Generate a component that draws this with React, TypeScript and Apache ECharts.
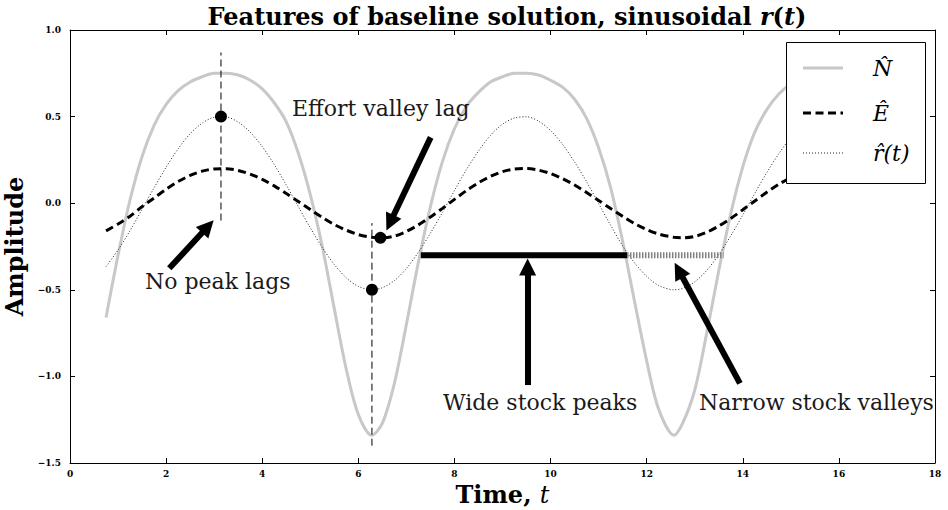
import React, { useEffect, useRef } from "react";
import * as echarts from "echarts";

// ---- data ----
const tValues = [
  0.75, 1.0, 1.25, 1.5, 1.75, 2.0, 2.25, 2.5, 2.75, 3.0, 3.25, 3.5, 3.75, 4.0, 4.25, 4.5,
  4.75, 5.0, 5.25, 5.5, 5.75, 6.0, 6.28, 6.5, 6.75, 7.0, 7.25, 7.5, 7.75, 8.0, 8.25, 8.5,
  8.75, 9.0, 9.25, 9.5, 9.75, 10.0, 10.25, 10.5, 10.75, 11.0, 11.25, 11.5, 11.75, 12.0,
  12.25, 12.57, 12.75, 13.0, 13.25, 13.5, 13.75, 14.0, 14.25, 14.5, 14.75, 15.0, 15.25,
  15.5, 15.75,
];
const stockValues = [
  -0.66, -0.3, 0.02, 0.27, 0.45, 0.57, 0.65, 0.7, 0.73, 0.75, 0.75, 0.74, 0.71, 0.66, 0.58, 0.47,
  0.29, 0.05, -0.25, -0.61, -0.96, -1.22, -1.34, -1.27, -1.04, -0.7, -0.34, -0.02, 0.24, 0.43, 0.56, 0.64,
  0.7, 0.73, 0.75, 0.75, 0.74, 0.71, 0.67, 0.6, 0.49, 0.32, 0.09, -0.22, -0.57, -0.91,
  -1.19, -1.34, -1.27, -1.08, -0.75, -0.39, -0.06, 0.21, 0.41, 0.54, 0.63, 0.69, 0.73,
  0.75, 0.75,
];
const effortValues = [
  -0.16, -0.12, -0.075, -0.02, 0.03, 0.08, 0.125, 0.16, 0.185, 0.198, 0.199, 0.189, 0.168, 0.138, 0.1, 0.056,
  0.01, -0.037, -0.082, -0.123, -0.156, -0.181, -0.197, -0.2, -0.19, -0.163, -0.125, -0.08, -0.03, 0.022, 0.073, 0.118,
  0.155, 0.182, 0.197, 0.2, 0.191, 0.171, 0.142, 0.105, 0.062, 0.016, -0.031, -0.076, -0.118, -0.152,
  -0.178, -0.197, -0.2, -0.192, -0.168, -0.132, -0.088, -0.038, 0.013, 0.063, 0.109, 0.148, 0.178,
  0.195, 0.2,
];
const rateValues = [
  -0.366, -0.27, -0.158, -0.035, 0.089, 0.208, 0.314, 0.401, 0.462, 0.495, 0.497, 0.468, 0.41, 0.327, 0.223, 0.105,
  -0.019, -0.142, -0.256, -0.354, -0.431, -0.48, -0.5, -0.488, -0.447, -0.377, -0.283, -0.173, -0.053, 0.073, 0.194, 0.301,
  0.392, 0.456, 0.492, 0.499, 0.474, 0.42, 0.34, 0.238, 0.124, -0.002, -0.127, -0.246, -0.345, -0.422,
  -0.475, -0.5, -0.492, -0.454, -0.388, -0.297, -0.188, -0.068, 0.057, 0.177, 0.286, 0.38, 0.45,
  0.489, 0.5,
];

const seriesNames = ["N\u0302", "E\u0302", "r\u0302(t)"];

// markers
const markedPoints = [
  [3.1416, 0.5],
  [6.2832, -0.5],
  [6.46, -0.2],
];
// vertical guide lines: [t, yFrom, yTo]
const guideLines = [
  [3.1416, -0.1, 0.87],
  [6.2832, -1.4, -0.115],
];
const spanLevel = -0.3;
const widePeakSpan = [7.3, 11.59];
const narrowValleySpan = [11.59, 13.6];
// arrows: [tailT, tailY, headT, headY]
const arrows = [
  [2.066, -0.376, 2.869, -0.135],
  [7.505, 0.38, 6.66, -0.113],
  [9.523, -1.05, 9.523, -0.368],
  [13.941, -1.04, 12.667, -0.387],
];
const annotations = [
  { text: "No peak lags", x: 145, y: 281 },
  { text: "Effort valley lag", x: 292, y: 108 },
  { text: "Wide stock peaks", x: 443, y: 402 },
  { text: "Narrow stock valleys", x: 699, y: 402 },
];

const xMin = 0, xMax = 18, xStep = 2;
const yMin = -1.5, yMax = 1.0, yStep = 0.5;

const SERIF = "'DejaVu Serif', serif";
const GRAY = "#c8c8c8";

export default function App() {
  const ref = useRef<HTMLDivElement>(null);

  useEffect(() => {
    if (!ref.current) return;
    const chart = echarts.init(ref.current, undefined, { renderer: "svg" });

    const pairs = (vals: number[]) => tValues.map((t, i) => [t, vals[i]]);
    const tickLabel = {
      fontFamily: SERIF,
      fontWeight: "bold" as const,
      fontSize: 9,
      color: "#000",
    };
    const axisLine = { show: true, onZero: false, lineStyle: { color: "#000", width: 1 } };
    const axisTick = { show: true, inside: true, length: 5, lineStyle: { color: "#000", width: 1 } };

    const series: any[] = [
      {
        name: seriesNames[0],
        type: "line",
        data: pairs(stockValues),
        smooth: 0.3,
        showSymbol: false,
        lineStyle: { color: GRAY, width: 3 },
        z: 2,
      },
      {
        name: seriesNames[1],
        type: "line",
        data: pairs(effortValues),
        smooth: 0.3,
        showSymbol: false,
        lineStyle: { color: "#000", width: 3, type: [8, 4.5] },
        z: 3,
      },
      {
        name: seriesNames[2],
        type: "line",
        data: pairs(rateValues),
        smooth: 0.3,
        showSymbol: false,
        lineStyle: { color: "#222", width: 1, type: [1, 2] },
        z: 3,
      },
      ...guideLines.map((g) => ({
        type: "line",
        data: [
          [g[0], g[1]],
          [g[0], g[2]],
        ],
        showSymbol: false,
        lineStyle: { color: "#000", width: 1, type: [7, 4] },
        z: 4,
      })),
      {
        type: "line",
        data: [
          [widePeakSpan[0], spanLevel],
          [widePeakSpan[1], spanLevel],
        ],
        showSymbol: false,
        lineStyle: { color: "#000", width: 6, cap: "butt" },
        z: 5,
      },
      {
        type: "line",
        data: [
          [narrowValleySpan[0], spanLevel],
          [narrowValleySpan[1], spanLevel],
        ],
        showSymbol: false,
        lineStyle: { color: "#808080", width: 6, type: [1.5, 1.5] },
        z: 5,
      },
      {
        type: "scatter",
        data: markedPoints,
        symbol: "circle",
        symbolSize: 12,
        itemStyle: { color: "#000", opacity: 1 },
        z: 6,
      },
      {
        type: "line",
        data: [],
        z: 7,
        markLine: {
          silent: true,
          symbol: ["none", "triangle"],
          symbolSize: 17,
          label: { show: false },
          emphasis: { disabled: true },
          lineStyle: { color: "#000", width: 6, type: "solid", opacity: 1 },
          itemStyle: { color: "#000" },
          data: arrows.map((a) => [{ coord: [a[0], a[1]] }, { coord: [a[2], a[3]] }]),
        },
      },
    ];

    const legendRows = [
      { y: 68, text: seriesNames[0], stroke: GRAY, width: 3, dash: null as any },
      { y: 113, text: seriesNames[1], stroke: "#000", width: 3, dash: [8, 4.5] },
      { y: 153, text: seriesNames[2], stroke: "#222", width: 1, dash: [1, 2] },
    ];

    const graphic: any[] = [
      {
        type: "rect",
        z: 100,
        shape: { x: 786.5, y: 42.5, width: 139, height: 141 },
        style: { fill: "#fff", stroke: "#000", lineWidth: 1 },
      },
      ...legendRows.map((r) => ({
        type: "line",
        z: 101,
        shape: { x1: 803, y1: r.y, x2: 843, y2: r.y },
        style: { stroke: r.stroke, lineWidth: r.width, lineDash: r.dash },
      })),
      ...legendRows.map((r) => ({
        type: "text",
        z: 101,
        x: 873,
        y: r.y,
        style: {
          text: r.text,
          fontFamily: SERIF,
          fontStyle: "italic",
          fontSize: 22,
          fill: "#000",
          textAlign: "left",
          textVerticalAlign: "middle",
          align: "left",
          verticalAlign: "middle",
        },
      })),
      ...annotations.map((a) => ({
        type: "text",
        z: 50,
        x: a.x,
        y: a.y,
        style: {
          text: a.text,
          fontFamily: SERIF,
          fontSize: 22,
          fill: "#1a1a1a",
          textAlign: "left",
          textVerticalAlign: "middle",
          align: "left",
          verticalAlign: "middle",
        },
      })),
    ];

    chart.setOption({
      animation: false,
      backgroundColor: "#fff",
      title: {
        text: "{a|Features of baseline solution, sinusoidal }{i|r}{a|(}{i|t}{a|)}",
        left: 502,
        top: -1,
        textAlign: "center",
        textStyle: {
          rich: {
            a: { fontFamily: SERIF, fontWeight: "bold", fontSize: 24, color: "#000" },
            i: { fontFamily: SERIF, fontStyle: "italic", fontSize: 24, color: "#000" },
          },
        },
      },
      grid: { left: 70, right: 13, top: 30, bottom: 47, containLabel: false, outerBoundsMode: "none" },
      xAxis: [
        {
          type: "value",
          position: "bottom",
          min: xMin,
          max: xMax,
          interval: xStep,
          axisLine,
          axisTick,
          splitLine: { show: false },
          axisLabel: { ...tickLabel, margin: 6 },
          name: "{a|Time, }{i|t}",
          nameLocation: "middle",
          nameGap: 18,
          nameTextStyle: {
            verticalAlign: "top",
            rich: {
              a: { fontFamily: SERIF, fontWeight: "bold", fontSize: 24, color: "#000" },
              i: { fontFamily: SERIF, fontStyle: "italic", fontSize: 24, color: "#000" },
            },
          },
        },
        {
          type: "value",
          position: "top",
          min: xMin,
          max: xMax,
          interval: xStep,
          axisLine,
          axisTick,
          splitLine: { show: false },
          axisLabel: { show: false },
        },
      ],
      yAxis: [
        {
          type: "value",
          position: "left",
          min: yMin,
          max: yMax,
          interval: yStep,
          axisLine,
          axisTick,
          splitLine: { show: false },
          axisLabel: {
            ...tickLabel,
            margin: 9,
            formatter: (v: number) => (v < 0 ? "\u2212" + Math.abs(v).toFixed(1) : v.toFixed(1)),
          },
          name: "Amplitude",
          nameLocation: "middle",
          nameGap: 40,
          nameRotate: 90,
          nameTextStyle: { fontFamily: SERIF, fontWeight: "bold", fontSize: 24, color: "#000" },
        },
        {
          type: "value",
          position: "right",
          min: yMin,
          max: yMax,
          interval: yStep,
          axisLine,
          axisTick,
          splitLine: { show: false },
          axisLabel: { show: false },
        },
      ],
      series,
      graphic,
    });

    return () => chart.dispose();
  }, []);

  return (
    <div
      ref={ref}
      style={{ position: "fixed", left: 0, top: 0, width: 948, height: 510, background: "#fff" }}
    />
  );
}
